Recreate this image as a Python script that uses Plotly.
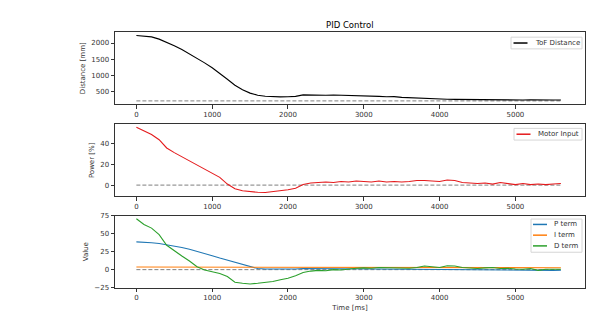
import plotly.graph_objects as go

# ---- data ----
time_ms = [i * 100 for i in range(57)]  # 0 .. 5600 ms

tof_distance = [2230, 2220, 2190, 2120, 2030, 1920, 1800, 1670, 1530, 1390,
                1240, 1075, 885, 700, 560, 460, 395, 362, 347, 344,
                350, 360, 405, 396, 401, 393, 400, 394, 388, 395,
                380, 374, 360, 346, 352, 330, 318, 302, 290, 282,
                276, 270, 266, 262, 258, 255, 259, 252, 257, 250,
                255, 249, 256, 247, 253, 246, 250]
setpoint_mm = 220

motor_input = [56, 52.5, 49, 44, 36, 31.5, 27.5, 23, 19, 15.5,
               11, 7.5, 1.0, -3.5, -5.5, -6.5, -7, -7.2, -6.5, -5.5,
               -4.5, -3, 0.5, 2, 2.5, 3, 2.5, 3.5, 3, 4,
               3.5, 3, 4, 3, 3.5, 3, 3.5, 4.5, 4.5, 4,
               3.5, 5, 4.5, 2.5, 2, 1.5, 2, 1, 2.5, 1.5,
               0.5, 1.5, 0.5, 1, 0.5, 1, 1.5]

p_term = [38.8, 38.4, 37.6, 36.5, 35, 33.2, 31, 28.5, 25.8, 22.8,
          19.5, 16.3, 13.2, 10.2, 7.2, 4.2, 1.5, 1.0, 0.9, 0.8,
          0.8, 1.0, 1.6, 1.5, 1.6, 1.5, 1.6, 1.4, 1.4, 1.5,
          1.3, 1.2, 1.0, 0.9, 1.0, 0.7, 0.5, 0.3, 0.2, 0.1,
          0.0, -0.1, -0.2, -0.7, -0.9, -1.0, -0.8, -1.0, -0.8, -1.0,
          -0.9, -1.0, -0.8, -1.0, -0.9, -1.0, -0.9]

i_term = [3.6] * 23 + [3.6, 3.6, 3.6, 3.6, 3.5, 3.5, 3.5, 3.5, 3.5, 3.5,
                       3.4, 3.4, 3.4, 3.4, 3.4, 3.4, 3.3, 3.3, 3.3, 3.2,
                       3.2, 3.1, 3.1, 3.0, 3.0, 3.0, 2.9, 2.9, 2.9, 2.8,
                       2.8, 2.8, 2.8, 2.7]

d_term = [71, 63, 58, 49, 34, 26, 19, 12, 4, -0.5,
          -3, -5.5, -9.5, -17.5, -19, -20, -19, -18, -16.5, -14,
          -12, -8.5, -4, -2, -1, -1.5, 0, -0.5, 1, 2,
          2.5, 2, 3, 2.5, 2, 2.5, 2, 3, 5, 4,
          3, 5.5, 5, 3, 2.5, 1.5, 2.5, 3, 1.5, 2,
          1, 0.5, 1.5, -1, 0.5, 1, 0.5]

x_ticks = [0, 1000, 2000, 3000, 4000, 5000]

# ---- figure ----
W, H = 612, 325
FONT = "DejaVu Sans"
TXT = "#333333"
fig = go.Figure()


def px_x(p):
    return p / W


def px_y(p):
    return 1 - p / H


dash_color = "#7f7f7f"
dash_style = "4px,2px"
LW = 1.1

series_style = {
    "ToF Distance": "black",
    "Motor Input": "#e41a1c",
    "P term": "#1f77b4",
    "I term": "#ff7f0e",
    "D term": "#2ca02c",
}

# subplot 1
fig.add_trace(go.Scatter(x=[time_ms[0], time_ms[-1]], y=[setpoint_mm, setpoint_mm], mode="lines",
                         line=dict(color=dash_color, width=1, dash=dash_style), showlegend=False,
                         xaxis="x", yaxis="y", hoverinfo="skip"))
fig.add_trace(go.Scatter(x=time_ms, y=tof_distance, mode="lines", name="ToF Distance",
                         line=dict(color=series_style["ToF Distance"], width=LW), xaxis="x", yaxis="y",
                         showlegend=False))
# subplot 2
fig.add_trace(go.Scatter(x=[time_ms[0], time_ms[-1]], y=[0, 0], mode="lines",
                         line=dict(color=dash_color, width=1, dash=dash_style), showlegend=False,
                         xaxis="x2", yaxis="y2", hoverinfo="skip"))
fig.add_trace(go.Scatter(x=time_ms, y=motor_input, mode="lines", name="Motor Input",
                         line=dict(color=series_style["Motor Input"], width=LW), xaxis="x2", yaxis="y2",
                         showlegend=False))
# subplot 3
fig.add_trace(go.Scatter(x=[time_ms[0], time_ms[-1]], y=[0, 0], mode="lines",
                         line=dict(color=dash_color, width=1, dash=dash_style), showlegend=False,
                         xaxis="x3", yaxis="y3", hoverinfo="skip"))
for nm, vals in (("P term", p_term), ("I term", i_term), ("D term", d_term)):
    fig.add_trace(go.Scatter(x=time_ms, y=vals, mode="lines", name=nm,
                             line=dict(color=series_style[nm], width=LW), xaxis="x3", yaxis="y3",
                             showlegend=False))

# ---- matplotlib-like legends built from shapes + text ----
shapes = []
annotations = []


def add_legend(box, entries):
    x0, y0, x1, y1 = box
    shapes.append(dict(type="rect", xref="paper", yref="paper",
                       x0=px_x(x0), x1=px_x(x1), y0=px_y(y1), y1=px_y(y0),
                       line=dict(color="#d6d6d6", width=1), fillcolor="rgba(255,255,255,0.85)",
                       layer="above"))
    for (lx0, lx1, ly, tx, name) in entries:
        shapes.append(dict(type="line", xref="paper", yref="paper",
                           x0=px_x(lx0), x1=px_x(lx1), y0=px_y(ly), y1=px_y(ly),
                           line=dict(color=series_style[name], width=1.5), layer="above"))
        annotations.append(dict(text=name, x=px_x(tx), y=px_y(ly), xref="paper", yref="paper",
                                xanchor="left", yanchor="middle", showarrow=False,
                                font=dict(family=FONT, size=7, color=TXT)))


add_legend((511, 34, 582, 46), [(513.5, 527.5, 40, 532.5, "ToF Distance")])
add_legend((514, 127.5, 582, 139.5), [(516.5, 530.5, 133.5, 535.5, "Motor Input")])
add_legend((531, 220.5, 582, 254.5), [(533, 547, 226, 552, "P term"),
                                       (533, 547, 237, 552, "I term"),
                                       (533, 547, 248, 552, "D term")])

annotations.append(dict(text="PID Control", x=px_x(350), y=px_y(21.5), xref="paper", yref="paper",
                        xanchor="center", yanchor="middle", showarrow=False,
                        font=dict(family=FONT, size=8.5, color="black")))

xdom = [px_x(115), px_x(585)]
axis_common = dict(showline=True, linecolor="#333333", linewidth=1, mirror=True,
                   ticks="outside", ticklen=3.5, tickcolor="#333333", tickwidth=1,
                   showgrid=False, zeroline=False,
                   tickfont=dict(family=FONT, size=7, color=TXT))
xrange_ = [-282, 5918]
title_font = dict(family=FONT, size=7, color=TXT)

fig.update_layout(
    width=W, height=H, margin=dict(l=0, r=0, t=0, b=0),
    paper_bgcolor="white", plot_bgcolor="white",
    font=dict(family=FONT, size=7, color=TXT),
    showlegend=False,
    xaxis=dict(domain=xdom, range=xrange_, tickvals=x_ticks, anchor="y", **axis_common),
    yaxis=dict(domain=[px_y(102.7), px_y(29)], range=[119.5, 2330.5],
               tickvals=[500, 1000, 1500, 2000], anchor="x",
               title=dict(text="Distance [mm]", standoff=4, font=title_font),
               **axis_common),
    xaxis2=dict(domain=xdom, range=xrange_, tickvals=x_ticks, anchor="y2", **axis_common),
    yaxis2=dict(domain=[px_y(197.3), px_y(123.3)], range=[-11, 59],
                tickvals=[0, 20, 40], anchor="x2",
                title=dict(text="Power [%]", standoff=4, font=title_font),
                **axis_common),
    xaxis3=dict(domain=xdom, range=xrange_, tickvals=x_ticks, anchor="y3",
                title=dict(text="Time [ms]", standoff=3, font=title_font),
                **axis_common),
    yaxis3=dict(domain=[px_y(290.7), px_y(217.3)], range=[-25, 75],
                tickvals=[-25, 0, 25, 50, 75], anchor="x3",
                title=dict(text="Value", standoff=4, font=title_font),
                **axis_common),
    shapes=shapes,
    annotations=annotations,
)

fig.write_html("out.html")
